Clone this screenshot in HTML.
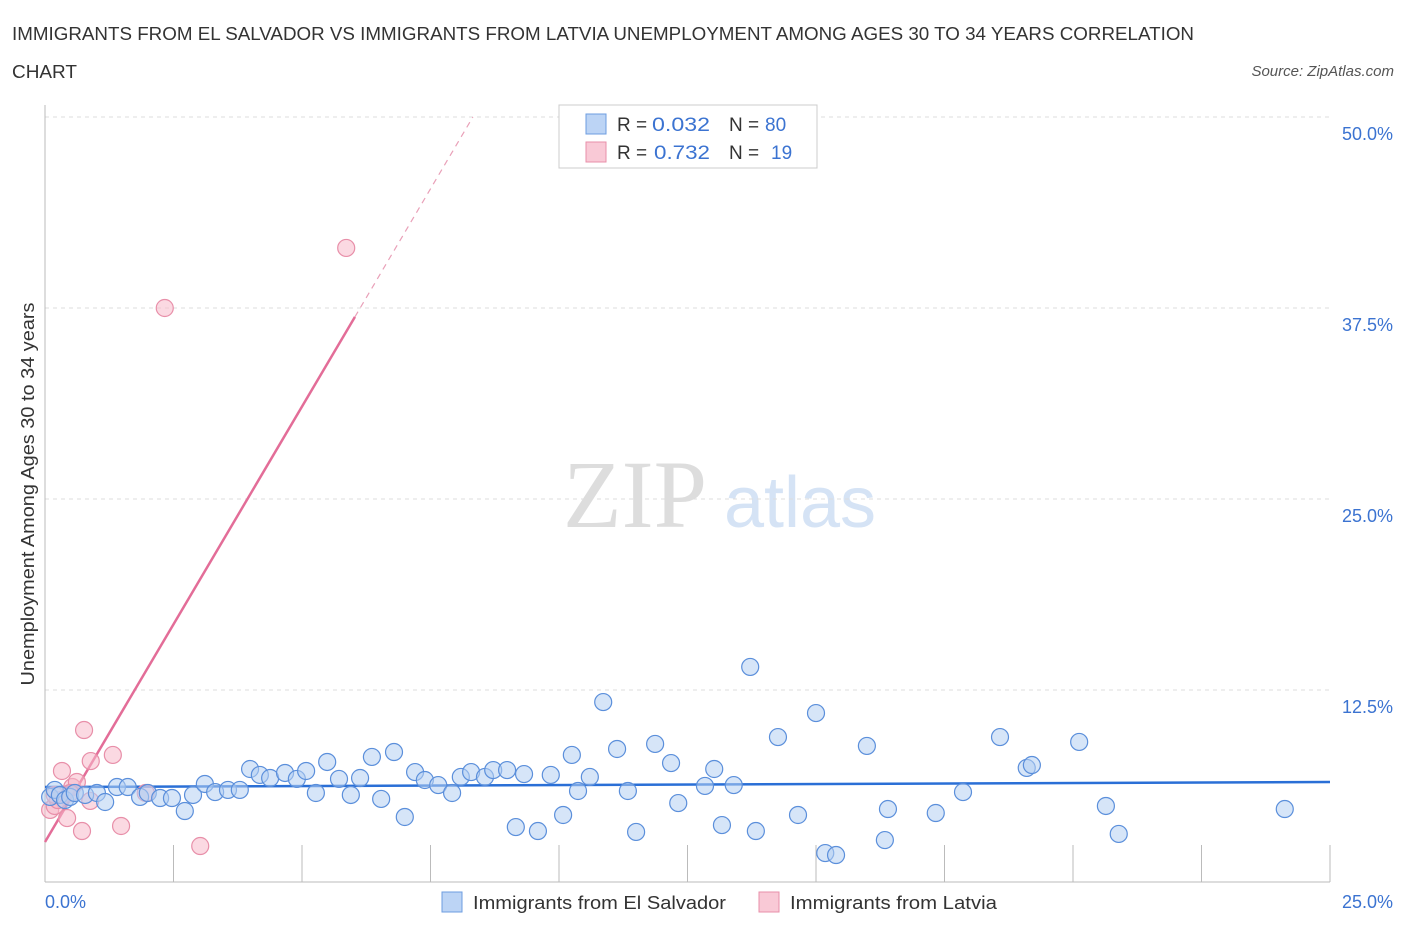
<!DOCTYPE html>
<html><head><meta charset="utf-8"><style>
body{margin:0;background:#fff;font-family:"Liberation Sans",sans-serif}
</style></head><body>
<svg width="1406" height="930" xmlns="http://www.w3.org/2000/svg" style="font-family:'Liberation Sans',sans-serif">
<text x="12" y="40" font-size="18" fill="#333" textLength="1182" lengthAdjust="spacingAndGlyphs">IMMIGRANTS FROM EL SALVADOR VS IMMIGRANTS FROM LATVIA UNEMPLOYMENT AMONG AGES 30 TO 34 YEARS CORRELATION</text>
<text x="12" y="78" font-size="18" fill="#333" textLength="65" lengthAdjust="spacingAndGlyphs">CHART</text>
<text x="1394" y="76" font-size="15" fill="#555" font-style="italic" text-anchor="end">Source: ZipAtlas.com</text>
<g><text x="635" y="527" font-size="96" fill="#ddd" font-family="Liberation Serif" text-anchor="middle">ZIP</text><text x="800" y="527" font-size="72" fill="#d5e3f5" text-anchor="middle">atlas</text></g>
<g id="grid"></g><g id="axes"></g><g id="lines"></g><g id="pts"></g>
<text x="34" y="494" font-size="18" fill="#333" transform="rotate(-90 34 494)" text-anchor="middle" textLength="383" lengthAdjust="spacingAndGlyphs">Unemployment Among Ages 30 to 34 years</text>
<text x="45" y="908" font-size="18" fill="#3b73d1">0.0%</text>
<text x="1393" y="908" font-size="18" fill="#3b73d1" text-anchor="end">25.0%</text>
<g>
<rect x="559" y="105" width="258" height="63" fill="#fff" stroke="#ccc"/>
<rect x="586" y="114" width="20" height="20" fill="#bcd4f5" stroke="#6d9de0"/>
<rect x="586" y="142" width="20" height="20" fill="#f9c9d6" stroke="#e88fa9"/>
<text x="617" y="131" font-size="19" fill="#333">R =</text><text x="652" y="131" font-size="19" fill="#3b73d1" textLength="58" lengthAdjust="spacingAndGlyphs">0.032</text>
<text x="729" y="131" font-size="19" fill="#333">N =</text><text x="765" y="131" font-size="19" fill="#3b73d1">80</text>
<text x="617" y="159" font-size="19" fill="#333">R =</text><text x="654" y="159" font-size="19" fill="#3b73d1" textLength="56" lengthAdjust="spacingAndGlyphs">0.732</text>
<text x="729" y="159" font-size="19" fill="#333">N =</text><text x="771" y="159" font-size="19" fill="#3b73d1">19</text>
</g>
<g>
<rect x="442" y="892" width="20" height="20" fill="#bcd4f5" stroke="#6d9de0"/>
<text x="473" y="909" font-size="18" fill="#333" textLength="253" lengthAdjust="spacingAndGlyphs">Immigrants from El Salvador</text>
<rect x="759" y="892" width="20" height="20" fill="#f9c9d6" stroke="#e88fa9"/>
<text x="790" y="909" font-size="18" fill="#333" textLength="207" lengthAdjust="spacingAndGlyphs">Immigrants from Latvia</text>
</g>
</svg>
<script>
const blueX=[0.10,0.19,0.29,0.39,0.49,0.58,0.78,1.01,1.17,1.40,1.61,1.85,2.00,2.24,2.47,2.72,2.88,3.11,3.31,3.56,3.79,3.99,4.18,4.38,4.67,4.90,5.08,5.27,5.49,5.72,5.95,6.13,6.36,6.54,6.79,7.00,7.20,7.39,7.65,7.92,8.09,8.29,8.56,8.72,8.99,9.16,9.32,9.59,9.84,10.08,10.25,10.37,10.60,10.86,11.13,11.34,11.50,11.87,12.18,12.32,12.84,13.02,13.17,13.40,13.72,13.83,14.26,14.65,15.00,15.18,15.39,15.99,16.34,16.40,17.33,17.86,18.58,19.10,19.20,20.12,20.64,20.89,24.12];
const blueY=[5.50,5.96,5.63,5.30,5.50,5.76,5.63,5.76,5.17,6.15,6.15,5.50,5.76,5.43,5.43,4.58,5.63,6.35,5.82,5.96,5.96,7.33,6.94,6.74,7.07,6.68,7.20,5.76,7.79,6.68,5.63,6.74,8.12,5.37,8.44,4.19,7.13,6.61,6.28,5.76,6.81,7.13,6.81,7.26,7.26,3.53,7.00,3.27,6.94,4.32,8.25,5.89,6.81,11.71,8.64,5.89,3.21,8.97,7.72,5.10,6.22,7.33,3.66,6.28,14.01,3.27,9.42,4.32,10.99,1.83,1.70,8.84,2.68,4.71,4.45,5.82,9.42,7.40,7.59,9.10,4.91,3.08,4.71];
const pinkX=[0.10,0.19,0.25,0.33,0.43,0.53,0.62,0.72,0.76,0.88,0.89,1.32,1.48,1.96,2.33,3.02,5.86,0.19,0.49];
const pinkY=[4.65,4.91,5.30,7.20,4.12,6.15,6.48,3.27,9.88,5.24,7.85,8.25,3.60,5.76,37.5,2.29,41.43,5.63,5.76];
const yTicks=[12.5,25,37.5,50];
const yTickLabels=["12.5%","25.0%","37.5%","50.0%"];
const blueTrend=[6.15,6.48];
const pinkTrend=[2.55,5.70];
const NS="http://www.w3.org/2000/svg";
const sx=v=>45+v/25*1285, sy=v=>881-v/50*764;
function mk(t,a,p){const e=document.createElementNS(NS,t);for(const k in a)e.setAttribute(k,a[k]);p.appendChild(e);return e;}
const grid=document.getElementById('grid'),axes=document.getElementById('axes'),lines=document.getElementById('lines'),pts=document.getElementById('pts');
yTicks.forEach((v,i)=>{const l=mk('line',{x1:45,x2:1330,y1:sy(v),y2:sy(v),stroke:'#ddd','stroke-dasharray':'4,4'},grid);


const t=mk('text',{x:1393,y:sy(v)+23,'font-size':18,fill:'#3b73d1','text-anchor':'end'},grid);t.textContent=yTickLabels[i];

});
const ya=mk('line',{x1:45,x2:45,y1:105,y2:882,stroke:'#bbb'},axes);


const xa=mk('line',{x1:45,x2:1330,y1:882,y2:882,stroke:'#bbb'},axes);


for(let i=1;i<=10;i++){const t=mk('line',{x1:sx(i*2.5),x2:sx(i*2.5),y1:845,y2:882,stroke:'#bbb'},axes);

}
function dot(x,y,f,s,n){const c=mk('circle',{cx:sx(x),cy:sy(y),r:8.5,fill:f,'fill-opacity':0.55,stroke:s,'stroke-width':1.2},pts);

}
pinkX.forEach((x,i)=>dot(x,pinkY[i],'#f7b9cb','#e88fa9','latvia-point'));
blueX.forEach((x,i)=>dot(x,blueY[i],'#b5cff2','#5b8fdb','el-salvador-point'));
const bt=mk('line',{x1:sx(0),x2:sx(25),y1:sy(blueTrend[0]),y2:sy(blueTrend[1]),stroke:'#2a6fd6','stroke-width':2.5},lines);


const xe=6.03,xd=(50-pinkTrend[0])/pinkTrend[1];
const pt=mk('line',{x1:sx(0),x2:sx(xe),y1:sy(pinkTrend[0]),y2:sy(pinkTrend[0]+pinkTrend[1]*xe),stroke:'#e36d98','stroke-width':2.5},lines);


const pd=mk('line',{x1:sx(xe),x2:sx(xd),y1:sy(pinkTrend[0]+pinkTrend[1]*xe),y2:sy(50),stroke:'#e9a0b8','stroke-width':1.2,'stroke-dasharray':'6,5'},lines);


</script>
</body></html>
